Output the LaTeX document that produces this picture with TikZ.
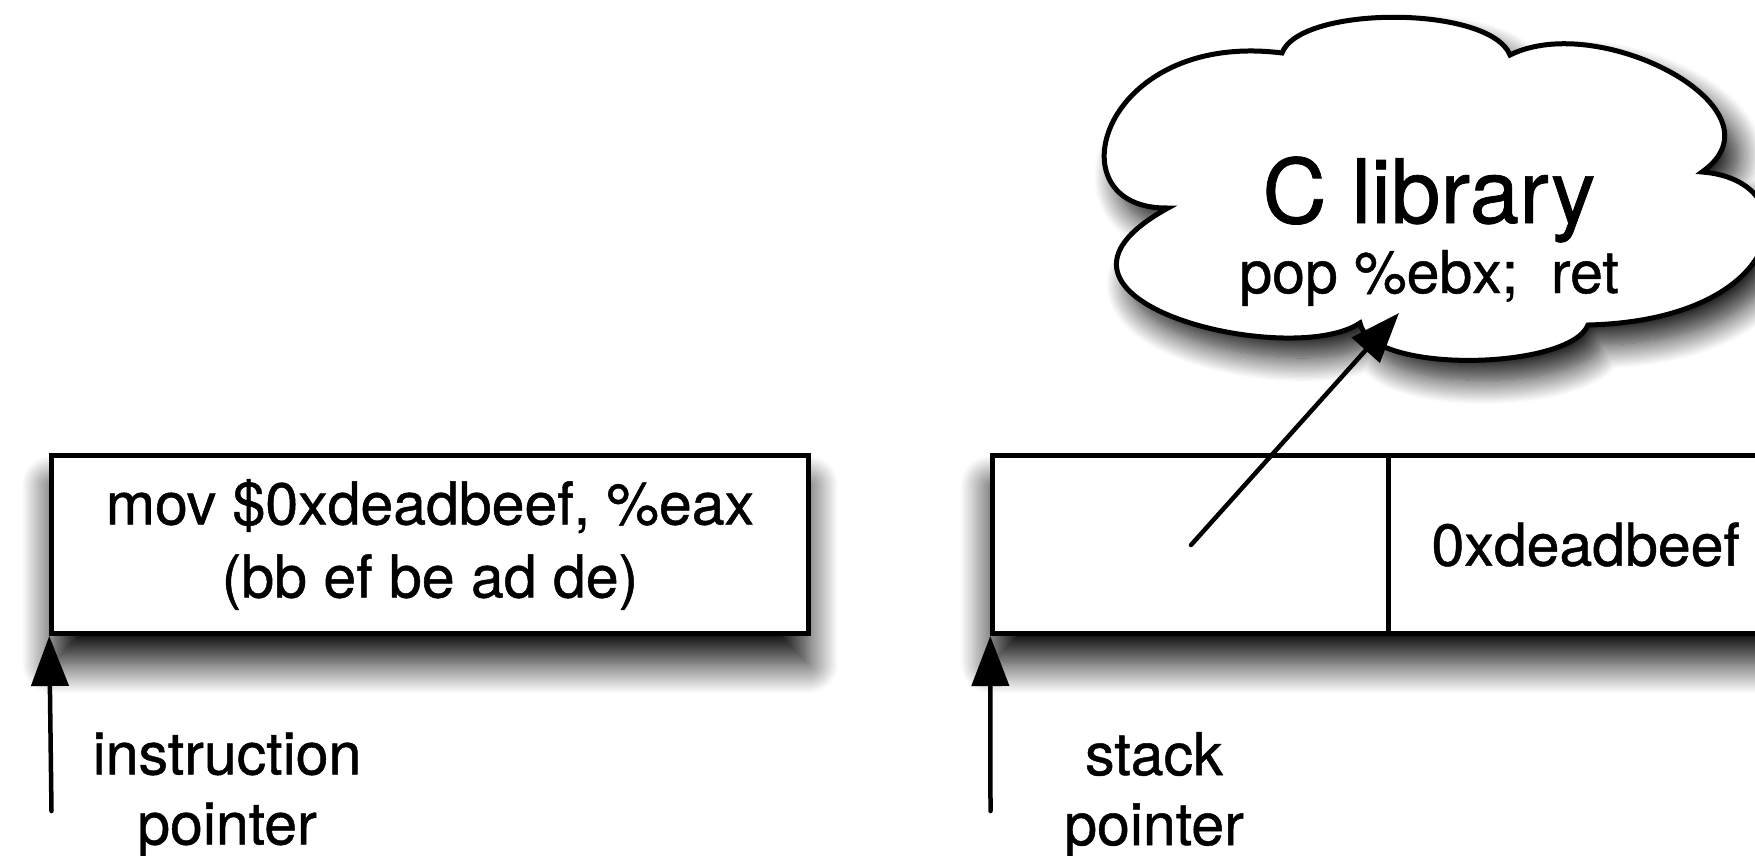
\documentclass[tikz,border=0pt]{standalone}
\usepackage{fontspec}
\setmainfont{TeX Gyre Heros}
\usetikzlibrary{arrows.meta,shadows.blur}
\newcommand{\heavier}{\addfontfeature{FakeBold=0.8}}
\begin{document}
\begin{tikzpicture}[x=1pt,y=1pt,
  txt/.style={font=\fontsize{59}{70}\selectfont\heavier, align=center, inner sep=0pt},
  cellbox/.style={draw, line width=5pt, fill=white, minimum height=178pt, inner sep=0pt,
                  font=\fontsize{59}{73}\selectfont\heavier, align=center},
  boxshadow/.style={blur shadow={shadow xshift=0pt, shadow yshift=-30pt,
                    shadow blur radius=30pt, shadow blur steps=20, shadow opacity=95}},
  cloudshadow/.style={blur shadow={shadow xshift=14pt, shadow yshift=-20pt,
                    shadow blur radius=24pt, shadow blur steps=20, shadow opacity=90}},
  ptr/.style={draw=black, fill=black, draw opacity=1, fill opacity=1, line width=4.5pt,
              line cap=round, -{Triangle[length=50pt,width=37pt,fill=black]}},
]
\useasboundingbox (0,0) rectangle (1755,-855);

% stack shadow holder (drawn first, behind the cells)
\node[minimum width=794.5pt, minimum height=178pt, inner sep=0pt, boxshadow] (stack) at (1387.75,-544.5) {};

% instruction box
\node[cellbox, boxshadow, minimum width=756.5pt] (instr) at (430,-544.5)
  {mov \$0xdeadbeef, \%eax\\(bb ef be ad de)};

% stack cells
\node[cellbox, minimum width=400.5pt, anchor=west] (slot) at (stack.west) {};
\node[cellbox, minimum width=394pt, anchor=east] (val) at (stack.east) {0xdeadbeef};

% cloud
\path[draw, line width=5pt, fill=white, cloudshadow]
 (1168,-208) .. controls (1050,-210) and (1100,-30) .. (1282,-53)
 .. controls (1300,-5) and (1490,-5) .. (1510,-55)
 .. controls (1600,-10) and (1790,-110) .. (1702,-172)
 .. controls (1810,-180) and (1790,-320) .. (1588,-325)
 .. controls (1570,-370) and (1370,-375) .. (1360,-323)
 .. controls (1290,-370) and (1000,-300) .. cycle;
\node[font=\fontsize{89}{89}\selectfont\heavier, anchor=base, inner sep=0pt] (clib) at (1429,-223) {C library};
\node[txt, anchor=base] (gadget) at (1429,-293) {pop \%ebx;\ \ ret};

% pointers
\coordinate (ip) at (51.5,-811);
\coordinate (sp) at (990.5,-811);
\draw[ptr] (ip) -- (instr.south west);
\draw[ptr] (sp) -- (slot.south west);
\node[txt] (iplabel) at (227,-795) {instruction\\pointer};
\node[txt] (splabel) at (1154,-795) {stack\\pointer};

% return address arrow
\coordinate (slotptr) at (1191,-545);
\coordinate (gadgetaddr) at (1399,-313);
\draw[ptr] (slotptr) -- (gadgetaddr);
\end{tikzpicture}
\end{document}
